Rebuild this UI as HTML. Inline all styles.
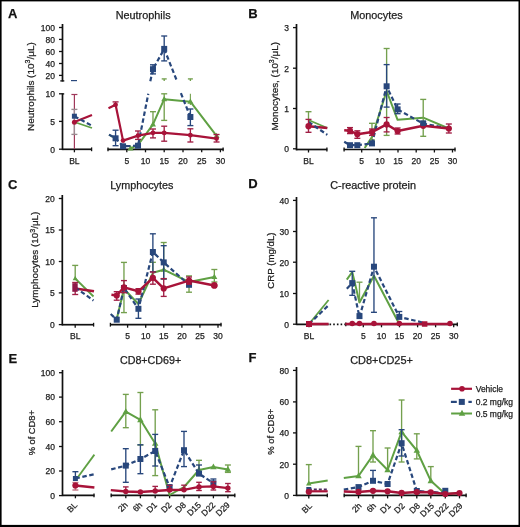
<!DOCTYPE html>
<html><head><meta charset="utf-8"><style>
html,body{margin:0;padding:0;background:#fff;}
body{width:520px;height:527px;overflow:hidden;position:relative;}
svg{position:absolute;left:0;top:0;display:block;font-family:"Liberation Sans",sans-serif;will-change:transform;}
text{stroke:#222;stroke-width:0.25px;}
</style></head><body>
<svg width="520" height="527" viewBox="0 0 520 527">
<rect x="0" y="0" width="520" height="527" fill="#fff"/>
<text x="7.9" y="18.1" font-size="13" text-anchor="start" font-weight="bold" fill="#111">A</text>
<text x="115.65" y="18.8" font-size="10.7" fill="#222" textLength="54.95" lengthAdjust="spacingAndGlyphs">Neutrophils</text>
<text x="34" y="86.6" font-size="9.9" text-anchor="middle" fill="#222" textLength="88.7" lengthAdjust="spacingAndGlyphs" transform="rotate(-90 34 86.6)">Neutrophils (10<tspan font-size="7" dy="-3.6">3</tspan><tspan dy="3.6">/μL)</tspan></text>
<line x1="62.5" y1="24" x2="62.5" y2="81.5" stroke="#111" stroke-width="1.7" stroke-linecap="butt"/>
<line x1="59" y1="27.5" x2="62.5" y2="27.5" stroke="#111" stroke-width="1.3" stroke-linecap="butt"/>
<text x="55" y="30.8" font-size="8.5" text-anchor="end" font-weight="normal" fill="#222">100</text>
<line x1="59" y1="39.4" x2="62.5" y2="39.4" stroke="#111" stroke-width="1.3" stroke-linecap="butt"/>
<text x="55" y="42.7" font-size="8.5" text-anchor="end" font-weight="normal" fill="#222">80</text>
<line x1="59" y1="51.5" x2="62.5" y2="51.5" stroke="#111" stroke-width="1.3" stroke-linecap="butt"/>
<text x="55" y="54.8" font-size="8.5" text-anchor="end" font-weight="normal" fill="#222">60</text>
<line x1="59" y1="63.5" x2="62.5" y2="63.5" stroke="#111" stroke-width="1.3" stroke-linecap="butt"/>
<text x="55" y="66.8" font-size="8.5" text-anchor="end" font-weight="normal" fill="#222">40</text>
<line x1="59" y1="75.4" x2="62.5" y2="75.4" stroke="#111" stroke-width="1.3" stroke-linecap="butt"/>
<text x="55" y="78.7" font-size="8.5" text-anchor="end" font-weight="normal" fill="#222">20</text>
<line x1="62.5" y1="93.2" x2="62.5" y2="150.1" stroke="#111" stroke-width="1.7" stroke-linecap="butt"/>
<line x1="59" y1="93.8" x2="62.5" y2="93.8" stroke="#111" stroke-width="1.3" stroke-linecap="butt"/>
<text x="55" y="97.1" font-size="8.5" text-anchor="end" font-weight="normal" fill="#222">10</text>
<line x1="59" y1="121.4" x2="62.5" y2="121.4" stroke="#111" stroke-width="1.3" stroke-linecap="butt"/>
<text x="55" y="124.7" font-size="8.5" text-anchor="end" font-weight="normal" fill="#222">5</text>
<line x1="59" y1="149.2" x2="62.5" y2="149.2" stroke="#111" stroke-width="1.3" stroke-linecap="butt"/>
<text x="55" y="152.5" font-size="8.5" text-anchor="end" font-weight="normal" fill="#222">0</text>
<line x1="60.3" y1="80.9" x2="64.3" y2="80.9" stroke="#111" stroke-width="1.3" stroke-linecap="butt"/>
<line x1="62.5" y1="93.9" x2="64.2" y2="93.9" stroke="#111" stroke-width="1.3" stroke-linecap="butt"/>
<line x1="62.5" y1="149.3" x2="92" y2="149.3" stroke="#111" stroke-width="1.7" stroke-linecap="butt"/>
<line x1="74.4" y1="149.3" x2="74.4" y2="152.3" stroke="#111" stroke-width="1.3" stroke-linecap="butt"/>
<line x1="91.6" y1="147.4" x2="91.6" y2="151.2" stroke="#111" stroke-width="1.3" stroke-linecap="butt"/>
<line x1="107.6" y1="149.3" x2="223.5" y2="149.3" stroke="#111" stroke-width="1.7" stroke-linecap="butt"/>
<line x1="126.8" y1="149.3" x2="126.8" y2="152.3" stroke="#111" stroke-width="1.3" stroke-linecap="butt"/>
<line x1="145.5" y1="149.3" x2="145.5" y2="152.3" stroke="#111" stroke-width="1.3" stroke-linecap="butt"/>
<line x1="164.2" y1="149.3" x2="164.2" y2="152.3" stroke="#111" stroke-width="1.3" stroke-linecap="butt"/>
<line x1="183" y1="149.3" x2="183" y2="152.3" stroke="#111" stroke-width="1.3" stroke-linecap="butt"/>
<line x1="201.7" y1="149.3" x2="201.7" y2="152.3" stroke="#111" stroke-width="1.3" stroke-linecap="butt"/>
<line x1="220.4" y1="149.3" x2="220.4" y2="152.3" stroke="#111" stroke-width="1.3" stroke-linecap="butt"/>
<line x1="108" y1="147.4" x2="108" y2="151.2" stroke="#111" stroke-width="1.3" stroke-linecap="butt"/>
<line x1="223.1" y1="147.4" x2="223.1" y2="151.2" stroke="#111" stroke-width="1.3" stroke-linecap="butt"/>
<text x="74.4" y="164" font-size="8.5" text-anchor="middle" font-weight="normal" fill="#222">BL</text>
<text x="126.8" y="164" font-size="8.5" text-anchor="middle" font-weight="normal" fill="#222">5</text>
<text x="145.5" y="164" font-size="8.5" text-anchor="middle" font-weight="normal" fill="#222">10</text>
<text x="164.2" y="164" font-size="8.5" text-anchor="middle" font-weight="normal" fill="#222">15</text>
<text x="183" y="164" font-size="8.5" text-anchor="middle" font-weight="normal" fill="#222">20</text>
<text x="201.7" y="164" font-size="8.5" text-anchor="middle" font-weight="normal" fill="#222">25</text>
<text x="220.4" y="164" font-size="8.5" text-anchor="middle" font-weight="normal" fill="#222">30</text>
<line x1="74.4" y1="94.5" x2="74.4" y2="149" stroke="#a0385a" stroke-width="1.2" stroke-linecap="butt"/>
<line x1="71.4" y1="94.5" x2="77.4" y2="94.5" stroke="#a0385a" stroke-width="1.2" stroke-linecap="butt"/>
<line x1="74.4" y1="109.4" x2="74.4" y2="134.4" stroke="#9a8a90" stroke-width="1.35" stroke-linecap="butt"/>
<line x1="71.4" y1="109.4" x2="77.4" y2="109.4" stroke="#9a8a90" stroke-width="1.35" stroke-linecap="butt"/>
<line x1="71.4" y1="134.4" x2="77.4" y2="134.4" stroke="#9a8a90" stroke-width="1.35" stroke-linecap="butt"/>
<polyline points="74.4,122 92,115" fill="none" stroke="#a81339" stroke-width="2.2" stroke-linejoin="round"/>
<polyline points="74.4,116.2 92,125.8" fill="none" stroke="#28477c" stroke-width="2.2" stroke-linejoin="round" stroke-dasharray="4.5,2.6"/>
<polyline points="74.4,122 92,128" fill="none" stroke="#5fa043" stroke-width="1.8" stroke-linejoin="round"/>
<line x1="71" y1="80.6" x2="77" y2="80.6" stroke="#28477c" stroke-width="1.2" stroke-linecap="butt"/>
<rect x="71.9" y="113.7" width="5" height="5" fill="#28477c"/>
<circle cx="74.4" cy="122.3" r="2.5" fill="#a81339"/>
<polyline points="109,134.8 115.58,138.5" fill="none" stroke="#5fa043" stroke-width="1.8" stroke-linejoin="round"/>
<polyline points="130.54,148.3 138.02,145 152.98,124.4 164.2,99.2 190.38,101.7 216.56,135.9" fill="none" stroke="#5fa043" stroke-width="2" stroke-linejoin="round"/>
<line x1="152.98" y1="111.7" x2="152.98" y2="124.4" stroke="#74a04e" stroke-width="1.35" stroke-linecap="butt"/>
<line x1="149.98" y1="111.7" x2="155.98" y2="111.7" stroke="#74a04e" stroke-width="1.35" stroke-linecap="butt"/>
<line x1="164.2" y1="78.9" x2="164.2" y2="81" stroke="#74a04e" stroke-width="1.35" stroke-linecap="butt"/>
<line x1="161.7" y1="78.9" x2="166.7" y2="78.9" stroke="#74a04e" stroke-width="1.35" stroke-linecap="butt"/>
<line x1="164.2" y1="93.8" x2="164.2" y2="120.4" stroke="#74a04e" stroke-width="1.35" stroke-linecap="butt"/>
<line x1="161.2" y1="93.8" x2="167.2" y2="93.8" stroke="#74a04e" stroke-width="1.35" stroke-linecap="butt"/>
<line x1="161.2" y1="120.4" x2="167.2" y2="120.4" stroke="#74a04e" stroke-width="1.35" stroke-linecap="butt"/>
<line x1="190.38" y1="78.9" x2="190.38" y2="81" stroke="#74a04e" stroke-width="1.35" stroke-linecap="butt"/>
<line x1="187.88" y1="78.9" x2="192.88" y2="78.9" stroke="#74a04e" stroke-width="1.35" stroke-linecap="butt"/>
<line x1="190.38" y1="93.8" x2="190.38" y2="105" stroke="#74a04e" stroke-width="1.1" stroke-linecap="butt"/>
<polygon points="130.54,145.06 127.54,150.46 133.54,150.46" fill="#5fa043"/>
<polygon points="152.98,121.16 149.98,126.56 155.98,126.56" fill="#5fa043"/>
<polygon points="164.2,95.96 161.2,101.36 167.2,101.36" fill="#5fa043"/>
<polygon points="190.38,98.46 187.38,103.86 193.38,103.86" fill="#5fa043"/>
<polygon points="216.56,132.66 213.56,138.06 219.56,138.06" fill="#5fa043"/>
<polyline points="109,134.6 115.58,138.3 123.06,146.3 138.02,145.7 148.3,93.8" fill="none" stroke="#28477c" stroke-width="2.2" stroke-linejoin="round" stroke-dasharray="4.5,2.6"/>
<polyline points="150.3,81.2 152.98,69.2 164.2,48.9 176.9,80.8" fill="none" stroke="#28477c" stroke-width="2.2" stroke-linejoin="round" stroke-dasharray="4.5,2.6"/>
<polyline points="180.9,93.2 190.38,117" fill="none" stroke="#28477c" stroke-width="2.2" stroke-linejoin="round" stroke-dasharray="4.5,2.6"/>
<line x1="115.58" y1="130.2" x2="115.58" y2="145.7" stroke="#28477c" stroke-width="1.35" stroke-linecap="butt"/>
<line x1="112.58" y1="130.2" x2="118.58" y2="130.2" stroke="#28477c" stroke-width="1.35" stroke-linecap="butt"/>
<line x1="112.58" y1="145.7" x2="118.58" y2="145.7" stroke="#28477c" stroke-width="1.35" stroke-linecap="butt"/>
<line x1="152.98" y1="64.8" x2="152.98" y2="73.9" stroke="#28477c" stroke-width="1.35" stroke-linecap="butt"/>
<line x1="149.98" y1="64.8" x2="155.98" y2="64.8" stroke="#28477c" stroke-width="1.35" stroke-linecap="butt"/>
<line x1="149.98" y1="73.9" x2="155.98" y2="73.9" stroke="#28477c" stroke-width="1.35" stroke-linecap="butt"/>
<line x1="164.2" y1="36" x2="164.2" y2="60.9" stroke="#28477c" stroke-width="1.35" stroke-linecap="butt"/>
<line x1="161.2" y1="36" x2="167.2" y2="36" stroke="#28477c" stroke-width="1.35" stroke-linecap="butt"/>
<line x1="161.2" y1="60.9" x2="167.2" y2="60.9" stroke="#28477c" stroke-width="1.35" stroke-linecap="butt"/>
<line x1="190.38" y1="109" x2="190.38" y2="125.6" stroke="#28477c" stroke-width="1.35" stroke-linecap="butt"/>
<line x1="187.38" y1="109" x2="193.38" y2="109" stroke="#28477c" stroke-width="1.35" stroke-linecap="butt"/>
<line x1="187.38" y1="125.6" x2="193.38" y2="125.6" stroke="#28477c" stroke-width="1.35" stroke-linecap="butt"/>
<rect x="112.58" y="135.3" width="6" height="6" fill="#28477c"/>
<rect x="120.06" y="143.3" width="6" height="6" fill="#28477c"/>
<rect x="135.02" y="142.7" width="6" height="6" fill="#28477c"/>
<rect x="149.98" y="66.2" width="6" height="6" fill="#28477c"/>
<rect x="161.2" y="45.9" width="6" height="6" fill="#28477c"/>
<rect x="187.38" y="114" width="6" height="6" fill="#28477c"/>
<polyline points="108.5,108.3 115.58,104.8 123.06,140.6 138.02,135.6 152.98,132.8 164.2,132.9 190.38,135.2 216.56,138.6" fill="none" stroke="#a81339" stroke-width="2.2" stroke-linejoin="round"/>
<line x1="115.58" y1="101.9" x2="115.58" y2="104.8" stroke="#a01f45" stroke-width="1.35" stroke-linecap="butt"/>
<line x1="112.58" y1="101.9" x2="118.58" y2="101.9" stroke="#a01f45" stroke-width="1.35" stroke-linecap="butt"/>
<line x1="138.02" y1="131" x2="138.02" y2="139.4" stroke="#a01f45" stroke-width="1.35" stroke-linecap="butt"/>
<line x1="135.02" y1="131" x2="141.02" y2="131" stroke="#a01f45" stroke-width="1.35" stroke-linecap="butt"/>
<line x1="135.02" y1="139.4" x2="141.02" y2="139.4" stroke="#a01f45" stroke-width="1.35" stroke-linecap="butt"/>
<line x1="152.98" y1="129" x2="152.98" y2="137.9" stroke="#a01f45" stroke-width="1.35" stroke-linecap="butt"/>
<line x1="149.98" y1="129" x2="155.98" y2="129" stroke="#a01f45" stroke-width="1.35" stroke-linecap="butt"/>
<line x1="149.98" y1="137.9" x2="155.98" y2="137.9" stroke="#a01f45" stroke-width="1.35" stroke-linecap="butt"/>
<line x1="164.2" y1="126.2" x2="164.2" y2="141.2" stroke="#a01f45" stroke-width="1.35" stroke-linecap="butt"/>
<line x1="161.2" y1="126.2" x2="167.2" y2="126.2" stroke="#a01f45" stroke-width="1.35" stroke-linecap="butt"/>
<line x1="161.2" y1="141.2" x2="167.2" y2="141.2" stroke="#a01f45" stroke-width="1.35" stroke-linecap="butt"/>
<line x1="190.38" y1="128.8" x2="190.38" y2="142" stroke="#a01f45" stroke-width="1.35" stroke-linecap="butt"/>
<line x1="187.38" y1="128.8" x2="193.38" y2="128.8" stroke="#a01f45" stroke-width="1.35" stroke-linecap="butt"/>
<line x1="187.38" y1="142" x2="193.38" y2="142" stroke="#a01f45" stroke-width="1.35" stroke-linecap="butt"/>
<line x1="216.56" y1="134.5" x2="216.56" y2="142" stroke="#a01f45" stroke-width="1.35" stroke-linecap="butt"/>
<line x1="213.56" y1="134.5" x2="219.56" y2="134.5" stroke="#a01f45" stroke-width="1.35" stroke-linecap="butt"/>
<line x1="213.56" y1="142" x2="219.56" y2="142" stroke="#a01f45" stroke-width="1.35" stroke-linecap="butt"/>
<circle cx="115.58" cy="104.8" r="2.4" fill="#a81339"/>
<circle cx="123.06" cy="140.6" r="2.4" fill="#a81339"/>
<circle cx="138.02" cy="135.6" r="2.4" fill="#a81339"/>
<circle cx="152.98" cy="132.8" r="2.4" fill="#a81339"/>
<circle cx="164.2" cy="132.9" r="2.4" fill="#a81339"/>
<circle cx="190.38" cy="135.2" r="2.4" fill="#a81339"/>
<circle cx="216.56" cy="138.6" r="2.4" fill="#a81339"/>
<text x="248.2" y="17.8" font-size="13" text-anchor="start" font-weight="bold" fill="#111">B</text>
<text x="350.2" y="18.9" font-size="10.7" fill="#222" textLength="52.4" lengthAdjust="spacingAndGlyphs">Monocytes</text>
<text x="278" y="86.3" font-size="9.9" text-anchor="middle" fill="#222" textLength="88.6" lengthAdjust="spacingAndGlyphs" transform="rotate(-90 278 86.3)">Monocytes, (10<tspan font-size="7" dy="-3.6">3</tspan><tspan dy="3.6">/μL)</tspan></text>
<line x1="296.5" y1="24" x2="296.5" y2="150.4" stroke="#111" stroke-width="1.7" stroke-linecap="butt"/>
<line x1="293" y1="27.6" x2="296.5" y2="27.6" stroke="#111" stroke-width="1.3" stroke-linecap="butt"/>
<text x="289" y="30.9" font-size="8.5" text-anchor="end" font-weight="normal" fill="#222">3</text>
<line x1="293" y1="68.2" x2="296.5" y2="68.2" stroke="#111" stroke-width="1.3" stroke-linecap="butt"/>
<text x="289" y="71.5" font-size="8.5" text-anchor="end" font-weight="normal" fill="#222">2</text>
<line x1="293" y1="108.5" x2="296.5" y2="108.5" stroke="#111" stroke-width="1.3" stroke-linecap="butt"/>
<text x="289" y="111.8" font-size="8.5" text-anchor="end" font-weight="normal" fill="#222">1</text>
<line x1="293" y1="148.8" x2="296.5" y2="148.8" stroke="#111" stroke-width="1.3" stroke-linecap="butt"/>
<text x="289" y="152.1" font-size="8.5" text-anchor="end" font-weight="normal" fill="#222">0</text>
<line x1="296.5" y1="149.5" x2="327.3" y2="149.5" stroke="#111" stroke-width="1.7" stroke-linecap="butt"/>
<line x1="308.5" y1="149.5" x2="308.5" y2="152.5" stroke="#111" stroke-width="1.3" stroke-linecap="butt"/>
<line x1="326.9" y1="147.6" x2="326.9" y2="151.4" stroke="#111" stroke-width="1.3" stroke-linecap="butt"/>
<line x1="343.7" y1="149.5" x2="455.4" y2="149.5" stroke="#111" stroke-width="1.7" stroke-linecap="butt"/>
<line x1="361.7" y1="149.5" x2="361.7" y2="152.5" stroke="#111" stroke-width="1.3" stroke-linecap="butt"/>
<line x1="379.9" y1="149.5" x2="379.9" y2="152.5" stroke="#111" stroke-width="1.3" stroke-linecap="butt"/>
<line x1="398" y1="149.5" x2="398" y2="152.5" stroke="#111" stroke-width="1.3" stroke-linecap="butt"/>
<line x1="416.2" y1="149.5" x2="416.2" y2="152.5" stroke="#111" stroke-width="1.3" stroke-linecap="butt"/>
<line x1="434.4" y1="149.5" x2="434.4" y2="152.5" stroke="#111" stroke-width="1.3" stroke-linecap="butt"/>
<line x1="452.5" y1="149.5" x2="452.5" y2="152.5" stroke="#111" stroke-width="1.3" stroke-linecap="butt"/>
<line x1="344.1" y1="147.6" x2="344.1" y2="151.4" stroke="#111" stroke-width="1.3" stroke-linecap="butt"/>
<line x1="455" y1="147.6" x2="455" y2="151.4" stroke="#111" stroke-width="1.3" stroke-linecap="butt"/>
<text x="308.5" y="163.6" font-size="8.5" text-anchor="middle" font-weight="normal" fill="#222">BL</text>
<text x="361.7" y="163.6" font-size="8.5" text-anchor="middle" font-weight="normal" fill="#222">5</text>
<text x="379.9" y="163.6" font-size="8.5" text-anchor="middle" font-weight="normal" fill="#222">10</text>
<text x="398" y="163.6" font-size="8.5" text-anchor="middle" font-weight="normal" fill="#222">15</text>
<text x="416.2" y="163.6" font-size="8.5" text-anchor="middle" font-weight="normal" fill="#222">20</text>
<text x="434.4" y="163.6" font-size="8.5" text-anchor="middle" font-weight="normal" fill="#222">25</text>
<text x="452.5" y="163.6" font-size="8.5" text-anchor="middle" font-weight="normal" fill="#222">30</text>
<polyline points="308.5,120 327.3,128" fill="none" stroke="#5fa043" stroke-width="1.8" stroke-linejoin="round"/>
<polyline points="308.5,126.2 327.3,128" fill="none" stroke="#a81339" stroke-width="2.5" stroke-linejoin="round"/>
<polyline points="308.5,122 327.3,134.8" fill="none" stroke="#28477c" stroke-width="2.2" stroke-linejoin="round" stroke-dasharray="4.5,2.6"/>
<line x1="308.5" y1="111.7" x2="308.5" y2="120" stroke="#74a04e" stroke-width="1.35" stroke-linecap="butt"/>
<line x1="305.5" y1="111.7" x2="311.5" y2="111.7" stroke="#74a04e" stroke-width="1.35" stroke-linecap="butt"/>
<line x1="308.5" y1="119.4" x2="308.5" y2="132.3" stroke="#a01f45" stroke-width="1.35" stroke-linecap="butt"/>
<line x1="305.5" y1="119.4" x2="311.5" y2="119.4" stroke="#a01f45" stroke-width="1.35" stroke-linecap="butt"/>
<line x1="305.5" y1="132.3" x2="311.5" y2="132.3" stroke="#a01f45" stroke-width="1.35" stroke-linecap="butt"/>
<circle cx="308.5" cy="126.2" r="3.1" fill="#a81339"/>
<polyline points="364.66,148 371.98,137 386.62,91 397.6,119.8 423.22,117.7 448.84,128.5" fill="none" stroke="#5fa043" stroke-width="2" stroke-linejoin="round"/>
<line x1="371.98" y1="123.3" x2="371.98" y2="140" stroke="#74a04e" stroke-width="1.35" stroke-linecap="butt"/>
<line x1="368.98" y1="123.3" x2="374.98" y2="123.3" stroke="#74a04e" stroke-width="1.35" stroke-linecap="butt"/>
<line x1="368.98" y1="140" x2="374.98" y2="140" stroke="#74a04e" stroke-width="1.35" stroke-linecap="butt"/>
<line x1="386.62" y1="48.5" x2="386.62" y2="135.4" stroke="#74a04e" stroke-width="1.35" stroke-linecap="butt"/>
<line x1="383.62" y1="48.5" x2="389.62" y2="48.5" stroke="#74a04e" stroke-width="1.35" stroke-linecap="butt"/>
<line x1="383.62" y1="135.4" x2="389.62" y2="135.4" stroke="#74a04e" stroke-width="1.35" stroke-linecap="butt"/>
<line x1="423.22" y1="99.4" x2="423.22" y2="136.3" stroke="#74a04e" stroke-width="1.35" stroke-linecap="butt"/>
<line x1="420.22" y1="99.4" x2="426.22" y2="99.4" stroke="#74a04e" stroke-width="1.35" stroke-linecap="butt"/>
<line x1="420.22" y1="136.3" x2="426.22" y2="136.3" stroke="#74a04e" stroke-width="1.35" stroke-linecap="butt"/>
<polyline points="344.2,141.7 350.02,145.2 357.34,145.2 371.98,143.4 386.62,86.3 397.6,109.4 423.22,123.7 448.84,128.5" fill="none" stroke="#28477c" stroke-width="2.2" stroke-linejoin="round" stroke-dasharray="4.5,2.6"/>
<line x1="386.62" y1="64.6" x2="386.62" y2="107.1" stroke="#28477c" stroke-width="1.35" stroke-linecap="butt"/>
<line x1="383.62" y1="64.6" x2="389.62" y2="64.6" stroke="#28477c" stroke-width="1.35" stroke-linecap="butt"/>
<line x1="383.62" y1="107.1" x2="389.62" y2="107.1" stroke="#28477c" stroke-width="1.35" stroke-linecap="butt"/>
<line x1="397.6" y1="104" x2="397.6" y2="113.7" stroke="#28477c" stroke-width="1.35" stroke-linecap="butt"/>
<line x1="394.6" y1="104" x2="400.6" y2="104" stroke="#28477c" stroke-width="1.35" stroke-linecap="butt"/>
<line x1="394.6" y1="113.7" x2="400.6" y2="113.7" stroke="#28477c" stroke-width="1.35" stroke-linecap="butt"/>
<rect x="347.02" y="142.2" width="6" height="6" fill="#28477c"/>
<rect x="354.34" y="142.2" width="6" height="6" fill="#28477c"/>
<rect x="368.98" y="140.4" width="6" height="6" fill="#28477c"/>
<rect x="383.62" y="83.3" width="6" height="6" fill="#28477c"/>
<rect x="394.6" y="106.4" width="6" height="6" fill="#28477c"/>
<rect x="420.22" y="120.7" width="6" height="6" fill="#28477c"/>
<polyline points="344.2,130.2 350.02,130.8 357.34,134.2 371.98,132.1 386.62,124.4 397.6,131 423.22,125.8 448.84,128.5" fill="none" stroke="#a81339" stroke-width="2.5" stroke-linejoin="round"/>
<line x1="350.02" y1="127.6" x2="350.02" y2="133.6" stroke="#a01f45" stroke-width="1.35" stroke-linecap="butt"/>
<line x1="347.02" y1="127.6" x2="353.02" y2="127.6" stroke="#a01f45" stroke-width="1.35" stroke-linecap="butt"/>
<line x1="347.02" y1="133.6" x2="353.02" y2="133.6" stroke="#a01f45" stroke-width="1.35" stroke-linecap="butt"/>
<line x1="357.34" y1="130.8" x2="357.34" y2="138.3" stroke="#a01f45" stroke-width="1.35" stroke-linecap="butt"/>
<line x1="354.34" y1="130.8" x2="360.34" y2="130.8" stroke="#a01f45" stroke-width="1.35" stroke-linecap="butt"/>
<line x1="354.34" y1="138.3" x2="360.34" y2="138.3" stroke="#a01f45" stroke-width="1.35" stroke-linecap="butt"/>
<line x1="371.98" y1="129" x2="371.98" y2="135.4" stroke="#a01f45" stroke-width="1.35" stroke-linecap="butt"/>
<line x1="368.98" y1="129" x2="374.98" y2="129" stroke="#a01f45" stroke-width="1.35" stroke-linecap="butt"/>
<line x1="368.98" y1="135.4" x2="374.98" y2="135.4" stroke="#a01f45" stroke-width="1.35" stroke-linecap="butt"/>
<line x1="386.62" y1="117.5" x2="386.62" y2="131.9" stroke="#a01f45" stroke-width="1.35" stroke-linecap="butt"/>
<line x1="383.62" y1="117.5" x2="389.62" y2="117.5" stroke="#a01f45" stroke-width="1.35" stroke-linecap="butt"/>
<line x1="383.62" y1="131.9" x2="389.62" y2="131.9" stroke="#a01f45" stroke-width="1.35" stroke-linecap="butt"/>
<line x1="397.6" y1="128" x2="397.6" y2="134" stroke="#a01f45" stroke-width="1.35" stroke-linecap="butt"/>
<line x1="394.6" y1="128" x2="400.6" y2="128" stroke="#a01f45" stroke-width="1.35" stroke-linecap="butt"/>
<line x1="394.6" y1="134" x2="400.6" y2="134" stroke="#a01f45" stroke-width="1.35" stroke-linecap="butt"/>
<line x1="448.84" y1="124" x2="448.84" y2="133" stroke="#a01f45" stroke-width="1.35" stroke-linecap="butt"/>
<line x1="445.84" y1="124" x2="451.84" y2="124" stroke="#a01f45" stroke-width="1.35" stroke-linecap="butt"/>
<line x1="445.84" y1="133" x2="451.84" y2="133" stroke="#a01f45" stroke-width="1.35" stroke-linecap="butt"/>
<circle cx="350.02" cy="130.8" r="3.1" fill="#a81339"/>
<circle cx="357.34" cy="134.2" r="3.1" fill="#a81339"/>
<circle cx="371.98" cy="132.1" r="3.1" fill="#a81339"/>
<circle cx="386.62" cy="124.4" r="3.1" fill="#a81339"/>
<circle cx="397.6" cy="131" r="3.1" fill="#a81339"/>
<circle cx="423.22" cy="125.8" r="3.1" fill="#a81339"/>
<circle cx="448.84" cy="128.5" r="3.1" fill="#a81339"/>
<rect x="420.47" y="120.45" width="5.5" height="5.5" fill="#28477c"/>
<text x="7.9" y="188.7" font-size="13" text-anchor="start" font-weight="bold" fill="#111">C</text>
<text x="110.2" y="189.3" font-size="10.7" fill="#222" textLength="63.2" lengthAdjust="spacingAndGlyphs">Lymphocytes</text>
<text x="38.4" y="259.7" font-size="9.9" text-anchor="middle" fill="#222" textLength="96.2" lengthAdjust="spacingAndGlyphs" transform="rotate(-90 38.4 259.7)">Lymphocytes (10<tspan font-size="7" dy="-3.6">3</tspan><tspan dy="3.6">/μL)</tspan></text>
<line x1="62.3" y1="195" x2="62.3" y2="325.5" stroke="#111" stroke-width="1.7" stroke-linecap="butt"/>
<line x1="58.8" y1="198.5" x2="62.3" y2="198.5" stroke="#111" stroke-width="1.3" stroke-linecap="butt"/>
<text x="54.8" y="201.8" font-size="8.5" text-anchor="end" font-weight="normal" fill="#222">20</text>
<line x1="58.8" y1="230" x2="62.3" y2="230" stroke="#111" stroke-width="1.3" stroke-linecap="butt"/>
<text x="54.8" y="233.3" font-size="8.5" text-anchor="end" font-weight="normal" fill="#222">15</text>
<line x1="58.8" y1="261.5" x2="62.3" y2="261.5" stroke="#111" stroke-width="1.3" stroke-linecap="butt"/>
<text x="54.8" y="264.8" font-size="8.5" text-anchor="end" font-weight="normal" fill="#222">10</text>
<line x1="58.8" y1="292.9" x2="62.3" y2="292.9" stroke="#111" stroke-width="1.3" stroke-linecap="butt"/>
<text x="54.8" y="296.2" font-size="8.5" text-anchor="end" font-weight="normal" fill="#222">5</text>
<line x1="58.8" y1="324.6" x2="62.3" y2="324.6" stroke="#111" stroke-width="1.3" stroke-linecap="butt"/>
<text x="54.8" y="327.9" font-size="8.5" text-anchor="end" font-weight="normal" fill="#222">0</text>
<line x1="62.3" y1="324.7" x2="94" y2="324.7" stroke="#111" stroke-width="1.7" stroke-linecap="butt"/>
<line x1="75.2" y1="324.7" x2="75.2" y2="327.7" stroke="#111" stroke-width="1.3" stroke-linecap="butt"/>
<line x1="93.6" y1="322.8" x2="93.6" y2="326.6" stroke="#111" stroke-width="1.3" stroke-linecap="butt"/>
<line x1="110" y1="324.7" x2="221.4" y2="324.7" stroke="#111" stroke-width="1.7" stroke-linecap="butt"/>
<line x1="127.6" y1="324.7" x2="127.6" y2="327.7" stroke="#111" stroke-width="1.3" stroke-linecap="butt"/>
<line x1="145.7" y1="324.7" x2="145.7" y2="327.7" stroke="#111" stroke-width="1.3" stroke-linecap="butt"/>
<line x1="163.8" y1="324.7" x2="163.8" y2="327.7" stroke="#111" stroke-width="1.3" stroke-linecap="butt"/>
<line x1="181.9" y1="324.7" x2="181.9" y2="327.7" stroke="#111" stroke-width="1.3" stroke-linecap="butt"/>
<line x1="199.9" y1="324.7" x2="199.9" y2="327.7" stroke="#111" stroke-width="1.3" stroke-linecap="butt"/>
<line x1="218" y1="324.7" x2="218" y2="327.7" stroke="#111" stroke-width="1.3" stroke-linecap="butt"/>
<line x1="110.4" y1="322.8" x2="110.4" y2="326.6" stroke="#111" stroke-width="1.3" stroke-linecap="butt"/>
<line x1="221" y1="322.8" x2="221" y2="326.6" stroke="#111" stroke-width="1.3" stroke-linecap="butt"/>
<text x="75.2" y="338.9" font-size="8.5" text-anchor="middle" font-weight="normal" fill="#222">BL</text>
<text x="127.6" y="338.9" font-size="8.5" text-anchor="middle" font-weight="normal" fill="#222">5</text>
<text x="145.7" y="338.9" font-size="8.5" text-anchor="middle" font-weight="normal" fill="#222">10</text>
<text x="163.8" y="338.9" font-size="8.5" text-anchor="middle" font-weight="normal" fill="#222">15</text>
<text x="181.9" y="338.9" font-size="8.5" text-anchor="middle" font-weight="normal" fill="#222">20</text>
<text x="199.9" y="338.9" font-size="8.5" text-anchor="middle" font-weight="normal" fill="#222">25</text>
<text x="218" y="338.9" font-size="8.5" text-anchor="middle" font-weight="normal" fill="#222">30</text>
<polyline points="75.2,278.5 93.5,296.5" fill="none" stroke="#5fa043" stroke-width="1.8" stroke-linejoin="round"/>
<polyline points="75.2,288.5 94,291.3" fill="none" stroke="#a81339" stroke-width="2.5" stroke-linejoin="round"/>
<polyline points="75.2,287.5 93.5,300.5" fill="none" stroke="#28477c" stroke-width="2.2" stroke-linejoin="round" stroke-dasharray="4.5,2.6"/>
<line x1="75.2" y1="265.4" x2="75.2" y2="278.5" stroke="#74a04e" stroke-width="1.35" stroke-linecap="butt"/>
<line x1="72.2" y1="265.4" x2="78.2" y2="265.4" stroke="#74a04e" stroke-width="1.35" stroke-linecap="butt"/>
<polygon points="75.2,275.8 72.7,280.3 77.7,280.3" fill="#5fa043"/>
<line x1="75.2" y1="282.5" x2="75.2" y2="294.5" stroke="#a01f45" stroke-width="1.35" stroke-linecap="butt"/>
<line x1="72.2" y1="282.5" x2="78.2" y2="282.5" stroke="#a01f45" stroke-width="1.35" stroke-linecap="butt"/>
<line x1="72.2" y1="294.5" x2="78.2" y2="294.5" stroke="#a01f45" stroke-width="1.35" stroke-linecap="butt"/>
<rect x="72.3" y="283.2" width="5.4" height="8.6" fill="#8f1848"/>
<polyline points="116.73,319 123.96,289 138.42,304 152.88,272.8 163.72,269.7 189.03,282 214.34,276.9" fill="none" stroke="#5fa043" stroke-width="2" stroke-linejoin="round"/>
<line x1="123.96" y1="262.4" x2="123.96" y2="312.6" stroke="#74a04e" stroke-width="1.35" stroke-linecap="butt"/>
<line x1="120.96" y1="262.4" x2="126.96" y2="262.4" stroke="#74a04e" stroke-width="1.35" stroke-linecap="butt"/>
<line x1="120.96" y1="312.6" x2="126.96" y2="312.6" stroke="#74a04e" stroke-width="1.35" stroke-linecap="butt"/>
<line x1="152.88" y1="262.3" x2="152.88" y2="272.8" stroke="#74a04e" stroke-width="1.35" stroke-linecap="butt"/>
<line x1="149.88" y1="262.3" x2="155.88" y2="262.3" stroke="#74a04e" stroke-width="1.35" stroke-linecap="butt"/>
<line x1="163.72" y1="242.5" x2="163.72" y2="279" stroke="#74a04e" stroke-width="1.35" stroke-linecap="butt"/>
<line x1="160.72" y1="242.5" x2="166.72" y2="242.5" stroke="#74a04e" stroke-width="1.35" stroke-linecap="butt"/>
<line x1="160.72" y1="279" x2="166.72" y2="279" stroke="#74a04e" stroke-width="1.35" stroke-linecap="butt"/>
<line x1="189.03" y1="275.9" x2="189.03" y2="292.2" stroke="#74a04e" stroke-width="1.35" stroke-linecap="butt"/>
<line x1="186.03" y1="275.9" x2="192.03" y2="275.9" stroke="#74a04e" stroke-width="1.35" stroke-linecap="butt"/>
<line x1="186.03" y1="292.2" x2="192.03" y2="292.2" stroke="#74a04e" stroke-width="1.35" stroke-linecap="butt"/>
<line x1="214.34" y1="269.5" x2="214.34" y2="282" stroke="#74a04e" stroke-width="1.35" stroke-linecap="butt"/>
<line x1="211.34" y1="269.5" x2="217.34" y2="269.5" stroke="#74a04e" stroke-width="1.35" stroke-linecap="butt"/>
<line x1="211.34" y1="282" x2="217.34" y2="282" stroke="#74a04e" stroke-width="1.35" stroke-linecap="butt"/>
<polygon points="214.34,273.66 211.34,279.06 217.34,279.06" fill="#5fa043"/>
<polygon points="163.72,266.46 160.72,271.86 166.72,271.86" fill="#5fa043"/>
<polyline points="110.7,314 116.73,319.7 123.96,288 138.42,308.8 152.88,252 163.72,262.4 189.03,284.8" fill="none" stroke="#28477c" stroke-width="2.2" stroke-linejoin="round" stroke-dasharray="4.5,2.6"/>
<line x1="138.42" y1="299" x2="138.42" y2="318.3" stroke="#28477c" stroke-width="1.35" stroke-linecap="butt"/>
<line x1="135.42" y1="299" x2="141.42" y2="299" stroke="#28477c" stroke-width="1.35" stroke-linecap="butt"/>
<line x1="135.42" y1="318.3" x2="141.42" y2="318.3" stroke="#28477c" stroke-width="1.35" stroke-linecap="butt"/>
<line x1="152.88" y1="233.8" x2="152.88" y2="271.8" stroke="#28477c" stroke-width="1.35" stroke-linecap="butt"/>
<line x1="149.88" y1="233.8" x2="155.88" y2="233.8" stroke="#28477c" stroke-width="1.35" stroke-linecap="butt"/>
<line x1="149.88" y1="271.8" x2="155.88" y2="271.8" stroke="#28477c" stroke-width="1.35" stroke-linecap="butt"/>
<line x1="163.72" y1="245.7" x2="163.72" y2="279" stroke="#28477c" stroke-width="1.35" stroke-linecap="butt"/>
<line x1="160.72" y1="245.7" x2="166.72" y2="245.7" stroke="#28477c" stroke-width="1.35" stroke-linecap="butt"/>
<line x1="160.72" y1="279" x2="166.72" y2="279" stroke="#28477c" stroke-width="1.35" stroke-linecap="butt"/>
<rect x="113.73" y="316.7" width="6" height="6" fill="#28477c"/>
<rect x="120.96" y="285" width="6" height="6" fill="#28477c"/>
<rect x="135.42" y="305.8" width="6" height="6" fill="#28477c"/>
<rect x="149.88" y="249" width="6" height="6" fill="#28477c"/>
<rect x="160.72" y="259.4" width="6" height="6" fill="#28477c"/>
<rect x="186.03" y="281.8" width="6" height="6" fill="#28477c"/>
<polyline points="111.4,294.8 116.73,295.5 123.96,287.4 138.42,291.3 152.88,277.8 163.72,288.4 189.03,280.6 214.34,285.4" fill="none" stroke="#a81339" stroke-width="2.5" stroke-linejoin="round"/>
<line x1="116.73" y1="291.7" x2="116.73" y2="300.2" stroke="#a01f45" stroke-width="1.35" stroke-linecap="butt"/>
<line x1="113.73" y1="291.7" x2="119.73" y2="291.7" stroke="#a01f45" stroke-width="1.35" stroke-linecap="butt"/>
<line x1="113.73" y1="300.2" x2="119.73" y2="300.2" stroke="#a01f45" stroke-width="1.35" stroke-linecap="butt"/>
<line x1="123.96" y1="280.6" x2="123.96" y2="292.7" stroke="#a01f45" stroke-width="1.35" stroke-linecap="butt"/>
<line x1="120.96" y1="280.6" x2="126.96" y2="280.6" stroke="#a01f45" stroke-width="1.35" stroke-linecap="butt"/>
<line x1="120.96" y1="292.7" x2="126.96" y2="292.7" stroke="#a01f45" stroke-width="1.35" stroke-linecap="butt"/>
<line x1="138.42" y1="288.7" x2="138.42" y2="294.1" stroke="#a01f45" stroke-width="1.35" stroke-linecap="butt"/>
<line x1="135.42" y1="288.7" x2="141.42" y2="288.7" stroke="#a01f45" stroke-width="1.35" stroke-linecap="butt"/>
<line x1="135.42" y1="294.1" x2="141.42" y2="294.1" stroke="#a01f45" stroke-width="1.35" stroke-linecap="butt"/>
<line x1="152.88" y1="272" x2="152.88" y2="284.2" stroke="#a01f45" stroke-width="1.35" stroke-linecap="butt"/>
<line x1="149.88" y1="272" x2="155.88" y2="272" stroke="#a01f45" stroke-width="1.35" stroke-linecap="butt"/>
<line x1="149.88" y1="284.2" x2="155.88" y2="284.2" stroke="#a01f45" stroke-width="1.35" stroke-linecap="butt"/>
<line x1="163.72" y1="278.6" x2="163.72" y2="296.4" stroke="#a01f45" stroke-width="1.35" stroke-linecap="butt"/>
<line x1="160.72" y1="278.6" x2="166.72" y2="278.6" stroke="#a01f45" stroke-width="1.35" stroke-linecap="butt"/>
<line x1="160.72" y1="296.4" x2="166.72" y2="296.4" stroke="#a01f45" stroke-width="1.35" stroke-linecap="butt"/>
<line x1="189.03" y1="277" x2="189.03" y2="284" stroke="#a01f45" stroke-width="1.35" stroke-linecap="butt"/>
<line x1="186.03" y1="277" x2="192.03" y2="277" stroke="#a01f45" stroke-width="1.35" stroke-linecap="butt"/>
<line x1="186.03" y1="284" x2="192.03" y2="284" stroke="#a01f45" stroke-width="1.35" stroke-linecap="butt"/>
<circle cx="116.73" cy="295.5" r="3.1" fill="#a81339"/>
<circle cx="123.96" cy="287.4" r="3.1" fill="#a81339"/>
<circle cx="138.42" cy="291.3" r="3.1" fill="#a81339"/>
<circle cx="152.88" cy="277.8" r="3.1" fill="#a81339"/>
<circle cx="163.72" cy="288.4" r="3.1" fill="#a81339"/>
<circle cx="189.03" cy="280.6" r="3.1" fill="#a81339"/>
<circle cx="214.34" cy="285.4" r="3.1" fill="#a81339"/>
<rect x="186.53" y="279.5" width="5" height="5" fill="#a81339"/>
<circle cx="214.34" cy="285.4" r="3.2" fill="#a81339"/>
<text x="248.3" y="187.8" font-size="13" text-anchor="start" font-weight="bold" fill="#111">D</text>
<text x="330.2" y="189.3" font-size="10.7" fill="#222" textLength="85.8" lengthAdjust="spacingAndGlyphs">C-reactive protein</text>
<text x="273.7" y="260.6" font-size="9.9" text-anchor="middle" fill="#222" textLength="56.2" lengthAdjust="spacingAndGlyphs" transform="rotate(-90 273.7 260.6)">CRP (mg/dL)</text>
<line x1="296.5" y1="197" x2="296.5" y2="325.1" stroke="#111" stroke-width="1.7" stroke-linecap="butt"/>
<line x1="293" y1="200.4" x2="296.5" y2="200.4" stroke="#111" stroke-width="1.3" stroke-linecap="butt"/>
<text x="289" y="203.7" font-size="8.5" text-anchor="end" font-weight="normal" fill="#222">40</text>
<line x1="293" y1="231.5" x2="296.5" y2="231.5" stroke="#111" stroke-width="1.3" stroke-linecap="butt"/>
<text x="289" y="234.8" font-size="8.5" text-anchor="end" font-weight="normal" fill="#222">30</text>
<line x1="293" y1="262.2" x2="296.5" y2="262.2" stroke="#111" stroke-width="1.3" stroke-linecap="butt"/>
<text x="289" y="265.5" font-size="8.5" text-anchor="end" font-weight="normal" fill="#222">20</text>
<line x1="293" y1="293.5" x2="296.5" y2="293.5" stroke="#111" stroke-width="1.3" stroke-linecap="butt"/>
<text x="289" y="296.8" font-size="8.5" text-anchor="end" font-weight="normal" fill="#222">10</text>
<line x1="293" y1="324.2" x2="296.5" y2="324.2" stroke="#111" stroke-width="1.3" stroke-linecap="butt"/>
<text x="289" y="327.5" font-size="8.5" text-anchor="end" font-weight="normal" fill="#222">0</text>
<line x1="296.5" y1="324.3" x2="328.6" y2="324.3" stroke="#111" stroke-width="1.7" stroke-linecap="butt"/>
<line x1="309" y1="324.3" x2="309" y2="327.3" stroke="#111" stroke-width="1.3" stroke-linecap="butt"/>
<line x1="329.5" y1="324.3" x2="345.4" y2="324.3" stroke="#111" stroke-width="1.7" stroke-linecap="butt" stroke-dasharray="1.6,2.1"/>
<line x1="345.4" y1="324.3" x2="457.7" y2="324.3" stroke="#111" stroke-width="1.7" stroke-linecap="butt"/>
<line x1="363.3" y1="324.3" x2="363.3" y2="327.3" stroke="#111" stroke-width="1.3" stroke-linecap="butt"/>
<line x1="381.5" y1="324.3" x2="381.5" y2="327.3" stroke="#111" stroke-width="1.3" stroke-linecap="butt"/>
<line x1="399.5" y1="324.3" x2="399.5" y2="327.3" stroke="#111" stroke-width="1.3" stroke-linecap="butt"/>
<line x1="417.6" y1="324.3" x2="417.6" y2="327.3" stroke="#111" stroke-width="1.3" stroke-linecap="butt"/>
<line x1="435.6" y1="324.3" x2="435.6" y2="327.3" stroke="#111" stroke-width="1.3" stroke-linecap="butt"/>
<line x1="453.7" y1="324.3" x2="453.7" y2="327.3" stroke="#111" stroke-width="1.3" stroke-linecap="butt"/>
<line x1="345.8" y1="322.4" x2="345.8" y2="326.2" stroke="#111" stroke-width="1.3" stroke-linecap="butt"/>
<line x1="457.3" y1="322.4" x2="457.3" y2="326.2" stroke="#111" stroke-width="1.3" stroke-linecap="butt"/>
<text x="309" y="338.5" font-size="8.5" text-anchor="middle" font-weight="normal" fill="#222">BL</text>
<text x="363.3" y="338.5" font-size="8.5" text-anchor="middle" font-weight="normal" fill="#222">5</text>
<text x="381.5" y="338.5" font-size="8.5" text-anchor="middle" font-weight="normal" fill="#222">10</text>
<text x="399.5" y="338.5" font-size="8.5" text-anchor="middle" font-weight="normal" fill="#222">15</text>
<text x="417.6" y="338.5" font-size="8.5" text-anchor="middle" font-weight="normal" fill="#222">20</text>
<text x="435.6" y="338.5" font-size="8.5" text-anchor="middle" font-weight="normal" fill="#222">25</text>
<text x="453.7" y="338.5" font-size="8.5" text-anchor="middle" font-weight="normal" fill="#222">30</text>
<polyline points="309,324 328.6,300" fill="none" stroke="#5fa043" stroke-width="1.8" stroke-linejoin="round"/>
<polyline points="309,324 328.6,305.2" fill="none" stroke="#28477c" stroke-width="2.2" stroke-linejoin="round" stroke-dasharray="4.5,2.6"/>
<polyline points="309,324 328.6,324" fill="none" stroke="#a81339" stroke-width="2.6" stroke-linejoin="round"/>
<rect x="306" y="321" width="6" height="6" fill="#a81339"/>
<polyline points="346.8,279.6 352.24,272 359.48,302.4 373.96,275.8 399.3,324" fill="none" stroke="#5fa043" stroke-width="2" stroke-linejoin="round"/>
<line x1="359.48" y1="282.2" x2="359.48" y2="302.4" stroke="#74a04e" stroke-width="1.35" stroke-linecap="butt"/>
<line x1="356.48" y1="282.2" x2="362.48" y2="282.2" stroke="#74a04e" stroke-width="1.35" stroke-linecap="butt"/>
<polyline points="346.8,288.8 352.24,283.1 359.48,317 373.96,266.7 399.3,316.9 424.64,323" fill="none" stroke="#28477c" stroke-width="2.2" stroke-linejoin="round" stroke-dasharray="4.5,2.6"/>
<line x1="352.24" y1="271.3" x2="352.24" y2="295.3" stroke="#28477c" stroke-width="1.35" stroke-linecap="butt"/>
<line x1="349.24" y1="271.3" x2="355.24" y2="271.3" stroke="#28477c" stroke-width="1.35" stroke-linecap="butt"/>
<line x1="349.24" y1="295.3" x2="355.24" y2="295.3" stroke="#28477c" stroke-width="1.35" stroke-linecap="butt"/>
<line x1="373.96" y1="217.8" x2="373.96" y2="312.3" stroke="#28477c" stroke-width="1.35" stroke-linecap="butt"/>
<line x1="370.96" y1="217.8" x2="376.96" y2="217.8" stroke="#28477c" stroke-width="1.35" stroke-linecap="butt"/>
<line x1="370.96" y1="312.3" x2="376.96" y2="312.3" stroke="#28477c" stroke-width="1.35" stroke-linecap="butt"/>
<line x1="399.3" y1="311.5" x2="399.3" y2="316.9" stroke="#28477c" stroke-width="1.35" stroke-linecap="butt"/>
<line x1="396.3" y1="311.5" x2="402.3" y2="311.5" stroke="#28477c" stroke-width="1.35" stroke-linecap="butt"/>
<rect x="349.24" y="280.1" width="6" height="6" fill="#28477c"/>
<rect x="356.48" y="313.1" width="6" height="6" fill="#28477c"/>
<rect x="370.96" y="263.7" width="6" height="6" fill="#28477c"/>
<rect x="396.3" y="313.9" width="6" height="6" fill="#28477c"/>
<polyline points="345.3,324 449.98,324" fill="none" stroke="#a81339" stroke-width="2.6" stroke-linejoin="round"/>
<circle cx="352.24" cy="323.5" r="2.8" fill="#a81339"/>
<circle cx="359.48" cy="323.5" r="2.8" fill="#a81339"/>
<circle cx="373.96" cy="323.5" r="2.8" fill="#a81339"/>
<circle cx="399.3" cy="323.5" r="2.8" fill="#a81339"/>
<circle cx="449.98" cy="323.5" r="2.8" fill="#a81339"/>
<rect x="421.89" y="321.25" width="5.5" height="5.5" fill="#a81339"/>
<text x="8.6" y="363" font-size="13" text-anchor="start" font-weight="bold" fill="#111">E</text>
<text x="119.9" y="363.9" font-size="10.7" fill="#222" textLength="61.4" lengthAdjust="spacingAndGlyphs">CD8+CD69+</text>
<text x="35" y="432.7" font-size="9.9" text-anchor="middle" fill="#222" textLength="45.2" lengthAdjust="spacingAndGlyphs" transform="rotate(-90 35 432.7)">% of CD8+</text>
<line x1="62.5" y1="370" x2="62.5" y2="496.1" stroke="#111" stroke-width="1.7" stroke-linecap="butt"/>
<line x1="59" y1="372.7" x2="62.5" y2="372.7" stroke="#111" stroke-width="1.3" stroke-linecap="butt"/>
<text x="55" y="376" font-size="8.5" text-anchor="end" font-weight="normal" fill="#222">100</text>
<line x1="59" y1="397.1" x2="62.5" y2="397.1" stroke="#111" stroke-width="1.3" stroke-linecap="butt"/>
<text x="55" y="400.4" font-size="8.5" text-anchor="end" font-weight="normal" fill="#222">80</text>
<line x1="59" y1="421.7" x2="62.5" y2="421.7" stroke="#111" stroke-width="1.3" stroke-linecap="butt"/>
<text x="55" y="425" font-size="8.5" text-anchor="end" font-weight="normal" fill="#222">60</text>
<line x1="59" y1="446.5" x2="62.5" y2="446.5" stroke="#111" stroke-width="1.3" stroke-linecap="butt"/>
<text x="55" y="449.8" font-size="8.5" text-anchor="end" font-weight="normal" fill="#222">40</text>
<line x1="59" y1="471" x2="62.5" y2="471" stroke="#111" stroke-width="1.3" stroke-linecap="butt"/>
<text x="55" y="474.3" font-size="8.5" text-anchor="end" font-weight="normal" fill="#222">20</text>
<line x1="59" y1="495.6" x2="62.5" y2="495.6" stroke="#111" stroke-width="1.3" stroke-linecap="butt"/>
<text x="55" y="498.9" font-size="8.5" text-anchor="end" font-weight="normal" fill="#222">0</text>
<line x1="62.5" y1="495.3" x2="94.4" y2="495.3" stroke="#111" stroke-width="1.7" stroke-linecap="butt"/>
<line x1="75.4" y1="495.3" x2="75.4" y2="498.3" stroke="#111" stroke-width="1.3" stroke-linecap="butt"/>
<line x1="94" y1="493.4" x2="94" y2="497.2" stroke="#111" stroke-width="1.3" stroke-linecap="butt"/>
<line x1="110.8" y1="495.3" x2="235.2" y2="495.3" stroke="#111" stroke-width="1.7" stroke-linecap="butt"/>
<line x1="125.8" y1="495.3" x2="125.8" y2="498.3" stroke="#111" stroke-width="1.3" stroke-linecap="butt"/>
<line x1="140.4" y1="495.3" x2="140.4" y2="498.3" stroke="#111" stroke-width="1.3" stroke-linecap="butt"/>
<line x1="155.2" y1="495.3" x2="155.2" y2="498.3" stroke="#111" stroke-width="1.3" stroke-linecap="butt"/>
<line x1="169.6" y1="495.3" x2="169.6" y2="498.3" stroke="#111" stroke-width="1.3" stroke-linecap="butt"/>
<line x1="184" y1="495.3" x2="184" y2="498.3" stroke="#111" stroke-width="1.3" stroke-linecap="butt"/>
<line x1="199" y1="495.3" x2="199" y2="498.3" stroke="#111" stroke-width="1.3" stroke-linecap="butt"/>
<line x1="213.4" y1="495.3" x2="213.4" y2="498.3" stroke="#111" stroke-width="1.3" stroke-linecap="butt"/>
<line x1="227.9" y1="495.3" x2="227.9" y2="498.3" stroke="#111" stroke-width="1.3" stroke-linecap="butt"/>
<line x1="111.2" y1="493.4" x2="111.2" y2="497.2" stroke="#111" stroke-width="1.3" stroke-linecap="butt"/>
<line x1="234.8" y1="493.4" x2="234.8" y2="497.2" stroke="#111" stroke-width="1.3" stroke-linecap="butt"/>
<text x="77.9" y="505.6" font-size="8.5" text-anchor="end" font-weight="normal" fill="#222" transform="rotate(-45 77.9 505.6)">BL</text>
<text x="128.3" y="505.6" font-size="8.5" text-anchor="end" font-weight="normal" fill="#222" transform="rotate(-45 128.3 505.6)">2h</text>
<text x="142.9" y="505.6" font-size="8.5" text-anchor="end" font-weight="normal" fill="#222" transform="rotate(-45 142.9 505.6)">6h</text>
<text x="157.7" y="505.6" font-size="8.5" text-anchor="end" font-weight="normal" fill="#222" transform="rotate(-45 157.7 505.6)">D1</text>
<text x="172.1" y="505.6" font-size="8.5" text-anchor="end" font-weight="normal" fill="#222" transform="rotate(-45 172.1 505.6)">D2</text>
<text x="186.5" y="505.6" font-size="8.5" text-anchor="end" font-weight="normal" fill="#222" transform="rotate(-45 186.5 505.6)">D8</text>
<text x="201.5" y="505.6" font-size="8.5" text-anchor="end" font-weight="normal" fill="#222" transform="rotate(-45 201.5 505.6)">D15</text>
<text x="215.9" y="505.6" font-size="8.5" text-anchor="end" font-weight="normal" fill="#222" transform="rotate(-45 215.9 505.6)">D22</text>
<text x="230.4" y="505.6" font-size="8.5" text-anchor="end" font-weight="normal" fill="#222" transform="rotate(-45 230.4 505.6)">D29</text>
<polyline points="78,477 94.4,454.6" fill="none" stroke="#5fa043" stroke-width="1.8" stroke-linejoin="round"/>
<polyline points="75.4,478.5 94.4,474.2" fill="none" stroke="#28477c" stroke-width="2.2" stroke-linejoin="round" stroke-dasharray="4.5,2.6"/>
<polyline points="75.4,485.5 94.4,487.5" fill="none" stroke="#a81339" stroke-width="2.5" stroke-linejoin="round"/>
<line x1="75.4" y1="471.7" x2="75.4" y2="478.5" stroke="#28477c" stroke-width="1.35" stroke-linecap="butt"/>
<line x1="72.4" y1="471.7" x2="78.4" y2="471.7" stroke="#28477c" stroke-width="1.35" stroke-linecap="butt"/>
<rect x="72.9" y="476" width="5" height="5" fill="#28477c"/>
<line x1="75.4" y1="482.5" x2="75.4" y2="490" stroke="#c07080" stroke-width="1.35" stroke-linecap="butt"/>
<line x1="72.4" y1="482.5" x2="78.4" y2="482.5" stroke="#c07080" stroke-width="1.35" stroke-linecap="butt"/>
<line x1="72.4" y1="490" x2="78.4" y2="490" stroke="#c07080" stroke-width="1.35" stroke-linecap="butt"/>
<circle cx="75.4" cy="485.5" r="3.1" fill="#a81339"/>
<polyline points="111.2,431.5 125.8,411.7 140.4,419.8 155.2,443.5 169.6,495 184,487 199,470 213.4,467 227.9,469.5" fill="none" stroke="#5fa043" stroke-width="2" stroke-linejoin="round"/>
<line x1="125.8" y1="394.4" x2="125.8" y2="427.7" stroke="#74a04e" stroke-width="1.35" stroke-linecap="butt"/>
<line x1="122.8" y1="394.4" x2="128.8" y2="394.4" stroke="#74a04e" stroke-width="1.35" stroke-linecap="butt"/>
<line x1="122.8" y1="427.7" x2="128.8" y2="427.7" stroke="#74a04e" stroke-width="1.35" stroke-linecap="butt"/>
<line x1="140.4" y1="392.5" x2="140.4" y2="445" stroke="#74a04e" stroke-width="1.35" stroke-linecap="butt"/>
<line x1="137.4" y1="392.5" x2="143.4" y2="392.5" stroke="#74a04e" stroke-width="1.35" stroke-linecap="butt"/>
<line x1="137.4" y1="445" x2="143.4" y2="445" stroke="#74a04e" stroke-width="1.35" stroke-linecap="butt"/>
<line x1="155.2" y1="409.8" x2="155.2" y2="475.6" stroke="#74a04e" stroke-width="1.35" stroke-linecap="butt"/>
<line x1="152.2" y1="409.8" x2="158.2" y2="409.8" stroke="#74a04e" stroke-width="1.35" stroke-linecap="butt"/>
<line x1="152.2" y1="475.6" x2="158.2" y2="475.6" stroke="#74a04e" stroke-width="1.35" stroke-linecap="butt"/>
<line x1="199" y1="460.3" x2="199" y2="470" stroke="#74a04e" stroke-width="1.35" stroke-linecap="butt"/>
<line x1="196" y1="460.3" x2="202" y2="460.3" stroke="#74a04e" stroke-width="1.35" stroke-linecap="butt"/>
<line x1="227.9" y1="465" x2="227.9" y2="472.4" stroke="#74a04e" stroke-width="1.35" stroke-linecap="butt"/>
<line x1="224.9" y1="465" x2="230.9" y2="465" stroke="#74a04e" stroke-width="1.35" stroke-linecap="butt"/>
<line x1="224.9" y1="472.4" x2="230.9" y2="472.4" stroke="#74a04e" stroke-width="1.35" stroke-linecap="butt"/>
<polygon points="125.8,408.19 122.55,414.04 129.05,414.04" fill="#5fa043"/>
<polygon points="140.4,416.29 137.15,422.14 143.65,422.14" fill="#5fa043"/>
<polygon points="155.2,439.99 151.95,445.84 158.45,445.84" fill="#5fa043"/>
<polygon points="199,466.49 195.75,472.34 202.25,472.34" fill="#5fa043"/>
<polygon points="213.4,463.49 210.15,469.34 216.65,469.34" fill="#5fa043"/>
<polygon points="227.9,465.99 224.65,471.84 231.15,471.84" fill="#5fa043"/>
<polyline points="111.2,469.4 125.8,465.6 140.4,459 155.2,451 169.6,487.1 184,450.2 199,473.6 213.4,483.3" fill="none" stroke="#28477c" stroke-width="2.2" stroke-linejoin="round" stroke-dasharray="4.5,2.6"/>
<line x1="125.8" y1="448.7" x2="125.8" y2="482.3" stroke="#28477c" stroke-width="1.35" stroke-linecap="butt"/>
<line x1="122.8" y1="448.7" x2="128.8" y2="448.7" stroke="#28477c" stroke-width="1.35" stroke-linecap="butt"/>
<line x1="122.8" y1="482.3" x2="128.8" y2="482.3" stroke="#28477c" stroke-width="1.35" stroke-linecap="butt"/>
<line x1="140.4" y1="444.8" x2="140.4" y2="473.7" stroke="#28477c" stroke-width="1.35" stroke-linecap="butt"/>
<line x1="137.4" y1="444.8" x2="143.4" y2="444.8" stroke="#28477c" stroke-width="1.35" stroke-linecap="butt"/>
<line x1="137.4" y1="473.7" x2="143.4" y2="473.7" stroke="#28477c" stroke-width="1.35" stroke-linecap="butt"/>
<line x1="155.2" y1="434.4" x2="155.2" y2="466" stroke="#28477c" stroke-width="1.35" stroke-linecap="butt"/>
<line x1="152.2" y1="434.4" x2="158.2" y2="434.4" stroke="#28477c" stroke-width="1.35" stroke-linecap="butt"/>
<line x1="152.2" y1="466" x2="158.2" y2="466" stroke="#28477c" stroke-width="1.35" stroke-linecap="butt"/>
<line x1="184" y1="431.4" x2="184" y2="466.6" stroke="#28477c" stroke-width="1.35" stroke-linecap="butt"/>
<line x1="181" y1="431.4" x2="187" y2="431.4" stroke="#28477c" stroke-width="1.35" stroke-linecap="butt"/>
<line x1="181" y1="466.6" x2="187" y2="466.6" stroke="#28477c" stroke-width="1.35" stroke-linecap="butt"/>
<line x1="199" y1="465" x2="199" y2="473.6" stroke="#28477c" stroke-width="1.35" stroke-linecap="butt"/>
<line x1="196" y1="465" x2="202" y2="465" stroke="#28477c" stroke-width="1.35" stroke-linecap="butt"/>
<line x1="213.4" y1="479" x2="213.4" y2="483.3" stroke="#28477c" stroke-width="1.35" stroke-linecap="butt"/>
<line x1="210.4" y1="479" x2="216.4" y2="479" stroke="#28477c" stroke-width="1.35" stroke-linecap="butt"/>
<rect x="122.8" y="462.6" width="6" height="6" fill="#28477c"/>
<rect x="137.4" y="456" width="6" height="6" fill="#28477c"/>
<rect x="152.2" y="448" width="6" height="6" fill="#28477c"/>
<rect x="166.6" y="484.1" width="6" height="6" fill="#28477c"/>
<rect x="181" y="447.2" width="6" height="6" fill="#28477c"/>
<rect x="196" y="470.6" width="6" height="6" fill="#28477c"/>
<rect x="210.4" y="480.3" width="6" height="6" fill="#28477c"/>
<polyline points="110.8,490.2 125.8,491.5 140.4,492 155.2,491 169.6,490 184,489.8 199,486.9 213.4,486.4 227.9,488.1" fill="none" stroke="#a81339" stroke-width="2.3" stroke-linejoin="round"/>
<line x1="125.8" y1="486.9" x2="125.8" y2="491.5" stroke="#a01f45" stroke-width="1.35" stroke-linecap="butt"/>
<line x1="123" y1="486.9" x2="128.6" y2="486.9" stroke="#a01f45" stroke-width="1.35" stroke-linecap="butt"/>
<circle cx="125.8" cy="491.5" r="2.7" fill="#a81339"/>
<circle cx="140.4" cy="492" r="2.7" fill="#a81339"/>
<line x1="155.2" y1="486.4" x2="155.2" y2="491" stroke="#a01f45" stroke-width="1.35" stroke-linecap="butt"/>
<line x1="152.4" y1="486.4" x2="158" y2="486.4" stroke="#a01f45" stroke-width="1.35" stroke-linecap="butt"/>
<circle cx="155.2" cy="491" r="2.7" fill="#a81339"/>
<line x1="169.6" y1="485.4" x2="169.6" y2="490" stroke="#a01f45" stroke-width="1.35" stroke-linecap="butt"/>
<line x1="166.8" y1="485.4" x2="172.4" y2="485.4" stroke="#a01f45" stroke-width="1.35" stroke-linecap="butt"/>
<circle cx="169.6" cy="490" r="2.7" fill="#a81339"/>
<line x1="184" y1="485.2" x2="184" y2="489.8" stroke="#a01f45" stroke-width="1.35" stroke-linecap="butt"/>
<line x1="181.2" y1="485.2" x2="186.8" y2="485.2" stroke="#a01f45" stroke-width="1.35" stroke-linecap="butt"/>
<circle cx="184" cy="489.8" r="2.7" fill="#a81339"/>
<line x1="199" y1="482.3" x2="199" y2="486.9" stroke="#a01f45" stroke-width="1.35" stroke-linecap="butt"/>
<line x1="196.2" y1="482.3" x2="201.8" y2="482.3" stroke="#a01f45" stroke-width="1.35" stroke-linecap="butt"/>
<line x1="199" y1="486.9" x2="199" y2="490.5" stroke="#a01f45" stroke-width="1.35" stroke-linecap="butt"/>
<line x1="196.2" y1="490.5" x2="201.8" y2="490.5" stroke="#a01f45" stroke-width="1.35" stroke-linecap="butt"/>
<circle cx="199" cy="486.9" r="2.7" fill="#a81339"/>
<line x1="213.4" y1="481.8" x2="213.4" y2="486.4" stroke="#a01f45" stroke-width="1.35" stroke-linecap="butt"/>
<line x1="210.6" y1="481.8" x2="216.2" y2="481.8" stroke="#a01f45" stroke-width="1.35" stroke-linecap="butt"/>
<line x1="213.4" y1="486.4" x2="213.4" y2="490" stroke="#a01f45" stroke-width="1.35" stroke-linecap="butt"/>
<line x1="210.6" y1="490" x2="216.2" y2="490" stroke="#a01f45" stroke-width="1.35" stroke-linecap="butt"/>
<circle cx="213.4" cy="486.4" r="2.7" fill="#a81339"/>
<line x1="227.9" y1="483.5" x2="227.9" y2="488.1" stroke="#a01f45" stroke-width="1.35" stroke-linecap="butt"/>
<line x1="225.1" y1="483.5" x2="230.7" y2="483.5" stroke="#a01f45" stroke-width="1.35" stroke-linecap="butt"/>
<line x1="227.9" y1="488.1" x2="227.9" y2="491.7" stroke="#a01f45" stroke-width="1.35" stroke-linecap="butt"/>
<line x1="225.1" y1="491.7" x2="230.7" y2="491.7" stroke="#a01f45" stroke-width="1.35" stroke-linecap="butt"/>
<circle cx="227.9" cy="488.1" r="2.7" fill="#a81339"/>
<text x="248.4" y="362" font-size="13" text-anchor="start" font-weight="bold" fill="#111">F</text>
<text x="350.2" y="364" font-size="10.7" fill="#222" textLength="62.7" lengthAdjust="spacingAndGlyphs">CD8+CD25+</text>
<text x="273.8" y="431.8" font-size="9.9" text-anchor="middle" fill="#222" textLength="45.9" lengthAdjust="spacingAndGlyphs" transform="rotate(-90 273.8 431.8)">% of CD8+</text>
<line x1="296.5" y1="367" x2="296.5" y2="496.2" stroke="#111" stroke-width="1.7" stroke-linecap="butt"/>
<line x1="293" y1="370.4" x2="296.5" y2="370.4" stroke="#111" stroke-width="1.3" stroke-linecap="butt"/>
<text x="289" y="373.7" font-size="8.5" text-anchor="end" font-weight="normal" fill="#222">80</text>
<line x1="293" y1="401.9" x2="296.5" y2="401.9" stroke="#111" stroke-width="1.3" stroke-linecap="butt"/>
<text x="289" y="405.2" font-size="8.5" text-anchor="end" font-weight="normal" fill="#222">60</text>
<line x1="293" y1="432.9" x2="296.5" y2="432.9" stroke="#111" stroke-width="1.3" stroke-linecap="butt"/>
<text x="289" y="436.2" font-size="8.5" text-anchor="end" font-weight="normal" fill="#222">40</text>
<line x1="293" y1="464.2" x2="296.5" y2="464.2" stroke="#111" stroke-width="1.3" stroke-linecap="butt"/>
<text x="289" y="467.5" font-size="8.5" text-anchor="end" font-weight="normal" fill="#222">20</text>
<line x1="293" y1="495.4" x2="296.5" y2="495.4" stroke="#111" stroke-width="1.3" stroke-linecap="butt"/>
<text x="289" y="498.7" font-size="8.5" text-anchor="end" font-weight="normal" fill="#222">0</text>
<line x1="296.5" y1="495.4" x2="327.7" y2="495.4" stroke="#111" stroke-width="1.7" stroke-linecap="butt"/>
<line x1="308.8" y1="495.4" x2="308.8" y2="498.4" stroke="#111" stroke-width="1.3" stroke-linecap="butt"/>
<line x1="327.3" y1="493.5" x2="327.3" y2="497.3" stroke="#111" stroke-width="1.3" stroke-linecap="butt"/>
<line x1="343.8" y1="495.4" x2="466.5" y2="495.4" stroke="#111" stroke-width="1.7" stroke-linecap="butt"/>
<line x1="358.5" y1="495.4" x2="358.5" y2="498.4" stroke="#111" stroke-width="1.3" stroke-linecap="butt"/>
<line x1="373" y1="495.4" x2="373" y2="498.4" stroke="#111" stroke-width="1.3" stroke-linecap="butt"/>
<line x1="387.6" y1="495.4" x2="387.6" y2="498.4" stroke="#111" stroke-width="1.3" stroke-linecap="butt"/>
<line x1="401.6" y1="495.4" x2="401.6" y2="498.4" stroke="#111" stroke-width="1.3" stroke-linecap="butt"/>
<line x1="416.8" y1="495.4" x2="416.8" y2="498.4" stroke="#111" stroke-width="1.3" stroke-linecap="butt"/>
<line x1="430.8" y1="495.4" x2="430.8" y2="498.4" stroke="#111" stroke-width="1.3" stroke-linecap="butt"/>
<line x1="445.3" y1="495.4" x2="445.3" y2="498.4" stroke="#111" stroke-width="1.3" stroke-linecap="butt"/>
<line x1="459.5" y1="495.4" x2="459.5" y2="498.4" stroke="#111" stroke-width="1.3" stroke-linecap="butt"/>
<line x1="344.2" y1="493.5" x2="344.2" y2="497.3" stroke="#111" stroke-width="1.3" stroke-linecap="butt"/>
<line x1="466.1" y1="493.5" x2="466.1" y2="497.3" stroke="#111" stroke-width="1.3" stroke-linecap="butt"/>
<text x="312.5" y="506.4" font-size="8.5" text-anchor="end" font-weight="normal" fill="#222" transform="rotate(-45 312.5 506.4)">BL</text>
<text x="362.2" y="506.4" font-size="8.5" text-anchor="end" font-weight="normal" fill="#222" transform="rotate(-45 362.2 506.4)">2h</text>
<text x="376.7" y="506.4" font-size="8.5" text-anchor="end" font-weight="normal" fill="#222" transform="rotate(-45 376.7 506.4)">6h</text>
<text x="391.3" y="506.4" font-size="8.5" text-anchor="end" font-weight="normal" fill="#222" transform="rotate(-45 391.3 506.4)">D1</text>
<text x="405.3" y="506.4" font-size="8.5" text-anchor="end" font-weight="normal" fill="#222" transform="rotate(-45 405.3 506.4)">D2</text>
<text x="420.5" y="506.4" font-size="8.5" text-anchor="end" font-weight="normal" fill="#222" transform="rotate(-45 420.5 506.4)">D8</text>
<text x="434.5" y="506.4" font-size="8.5" text-anchor="end" font-weight="normal" fill="#222" transform="rotate(-45 434.5 506.4)">D15</text>
<text x="449" y="506.4" font-size="8.5" text-anchor="end" font-weight="normal" fill="#222" transform="rotate(-45 449 506.4)">D22</text>
<text x="463.2" y="506.4" font-size="8.5" text-anchor="end" font-weight="normal" fill="#222" transform="rotate(-45 463.2 506.4)">D29</text>
<polyline points="308.8,483.5 327.7,480.5" fill="none" stroke="#5fa043" stroke-width="1.8" stroke-linejoin="round"/>
<line x1="308.8" y1="464.6" x2="308.8" y2="483.5" stroke="#74a04e" stroke-width="1.35" stroke-linecap="butt"/>
<line x1="305.8" y1="464.6" x2="311.8" y2="464.6" stroke="#74a04e" stroke-width="1.35" stroke-linecap="butt"/>
<polygon points="308.8,480.53 306.05,485.48 311.55,485.48" fill="#5fa043"/>
<polyline points="308.8,489.6 327.7,489.6" fill="none" stroke="#4a2a60" stroke-width="2" stroke-linejoin="round" stroke-dasharray="3,2"/>
<polyline points="308.8,491.3 327.7,491.3" fill="none" stroke="#a81339" stroke-width="2.2" stroke-linejoin="round"/>
<rect x="306.3" y="487" width="5" height="5" fill="#28477c"/>
<circle cx="308.8" cy="491.8" r="3.1" fill="#a81339"/>
<polyline points="343.8,478 358.5,476 373,455.1 387.6,470 401.6,431.8 416.8,450.5 430.8,480.8 445.3,494 459.5,493" fill="none" stroke="#5fa043" stroke-width="2" stroke-linejoin="round"/>
<line x1="358.5" y1="446.4" x2="358.5" y2="476" stroke="#74a04e" stroke-width="1.35" stroke-linecap="butt"/>
<line x1="355.5" y1="446.4" x2="361.5" y2="446.4" stroke="#74a04e" stroke-width="1.35" stroke-linecap="butt"/>
<line x1="373" y1="430.7" x2="373" y2="462" stroke="#74a04e" stroke-width="1.35" stroke-linecap="butt"/>
<line x1="370" y1="430.7" x2="376" y2="430.7" stroke="#74a04e" stroke-width="1.35" stroke-linecap="butt"/>
<line x1="370" y1="462" x2="376" y2="462" stroke="#74a04e" stroke-width="1.35" stroke-linecap="butt"/>
<line x1="387.6" y1="448" x2="387.6" y2="470" stroke="#74a04e" stroke-width="1.35" stroke-linecap="butt"/>
<line x1="384.6" y1="448" x2="390.6" y2="448" stroke="#74a04e" stroke-width="1.35" stroke-linecap="butt"/>
<line x1="401.6" y1="400" x2="401.6" y2="462" stroke="#74a04e" stroke-width="1.35" stroke-linecap="butt"/>
<line x1="398.6" y1="400" x2="404.6" y2="400" stroke="#74a04e" stroke-width="1.35" stroke-linecap="butt"/>
<line x1="398.6" y1="462" x2="404.6" y2="462" stroke="#74a04e" stroke-width="1.35" stroke-linecap="butt"/>
<line x1="416.8" y1="433.8" x2="416.8" y2="458.9" stroke="#74a04e" stroke-width="1.35" stroke-linecap="butt"/>
<line x1="413.8" y1="433.8" x2="419.8" y2="433.8" stroke="#74a04e" stroke-width="1.35" stroke-linecap="butt"/>
<line x1="413.8" y1="458.9" x2="419.8" y2="458.9" stroke="#74a04e" stroke-width="1.35" stroke-linecap="butt"/>
<line x1="430.8" y1="466.6" x2="430.8" y2="480.8" stroke="#74a04e" stroke-width="1.35" stroke-linecap="butt"/>
<line x1="427.8" y1="466.6" x2="433.8" y2="466.6" stroke="#74a04e" stroke-width="1.35" stroke-linecap="butt"/>
<polygon points="358.5,472.49 355.25,478.34 361.75,478.34" fill="#5fa043"/>
<polygon points="373,451.59 369.75,457.44 376.25,457.44" fill="#5fa043"/>
<polygon points="387.6,466.49 384.35,472.34 390.85,472.34" fill="#5fa043"/>
<polygon points="401.6,428.29 398.35,434.14 404.85,434.14" fill="#5fa043"/>
<polygon points="416.8,446.99 413.55,452.84 420.05,452.84" fill="#5fa043"/>
<polygon points="430.8,477.29 427.55,483.14 434.05,483.14" fill="#5fa043"/>
<polyline points="343.8,489.6 358.5,487.1 373,480.8 387.6,484 401.6,443.2 416.8,491 430.8,492 445.3,493" fill="none" stroke="#28477c" stroke-width="2.2" stroke-linejoin="round" stroke-dasharray="4.5,2.6"/>
<line x1="373" y1="470.4" x2="373" y2="480.8" stroke="#28477c" stroke-width="1.35" stroke-linecap="butt"/>
<line x1="370" y1="470.4" x2="376" y2="470.4" stroke="#28477c" stroke-width="1.35" stroke-linecap="butt"/>
<line x1="401.6" y1="429.7" x2="401.6" y2="456" stroke="#28477c" stroke-width="1.35" stroke-linecap="butt"/>
<line x1="398.6" y1="429.7" x2="404.6" y2="429.7" stroke="#28477c" stroke-width="1.35" stroke-linecap="butt"/>
<line x1="398.6" y1="456" x2="404.6" y2="456" stroke="#28477c" stroke-width="1.35" stroke-linecap="butt"/>
<rect x="355.5" y="484.1" width="6" height="6" fill="#28477c"/>
<rect x="370" y="477.8" width="6" height="6" fill="#28477c"/>
<rect x="384.6" y="481" width="6" height="6" fill="#28477c"/>
<rect x="398.6" y="440.2" width="6" height="6" fill="#28477c"/>
<rect x="413.8" y="488" width="6" height="6" fill="#28477c"/>
<rect x="442.3" y="487.8" width="6" height="6" fill="#28477c"/>
<polyline points="343.8,491.5 358.5,491.9 373,490.8 387.6,491.3 401.6,492.9 416.8,492 430.8,492.3 445.3,494 459.5,493" fill="none" stroke="#a81339" stroke-width="2.5" stroke-linejoin="round"/>
<circle cx="358.5" cy="491.9" r="3.1" fill="#a81339"/>
<circle cx="373" cy="490.8" r="3.1" fill="#a81339"/>
<circle cx="387.6" cy="491.3" r="3.1" fill="#a81339"/>
<circle cx="401.6" cy="492.9" r="3.1" fill="#a81339"/>
<circle cx="416.8" cy="492" r="3.1" fill="#a81339"/>
<circle cx="430.8" cy="492.3" r="3.1" fill="#a81339"/>
<circle cx="445.3" cy="494" r="3.1" fill="#a81339"/>
<circle cx="459.5" cy="493" r="3.1" fill="#a81339"/>
<line x1="451.1" y1="388.8" x2="472" y2="388.8" stroke="#a81339" stroke-width="2.2" stroke-linecap="butt"/>
<circle cx="462" cy="388.8" r="2.8" fill="#a81339"/>
<text x="475.7" y="391.7" font-size="8.5" text-anchor="start" font-weight="normal" fill="#222">Vehicle</text>
<line x1="450.9" y1="401.9" x2="456.8" y2="401.9" stroke="#28477c" stroke-width="2.2" stroke-linecap="butt"/>
<line x1="468.4" y1="401.9" x2="471.8" y2="401.9" stroke="#28477c" stroke-width="2.2" stroke-linecap="butt"/>
<rect x="458.8" y="398.9" width="6" height="6" fill="#28477c"/>
<text x="475.7" y="404.5" font-size="8.5" text-anchor="start" font-weight="normal" fill="#222">0.2 mg/kg</text>
<line x1="451.1" y1="413.5" x2="472" y2="413.5" stroke="#5fa043" stroke-width="2" stroke-linecap="butt"/>
<polygon points="462,409.79 458.75,415.64 465.25,415.64" fill="#5fa043"/>
<text x="475.7" y="416.5" font-size="8.5" text-anchor="start" font-weight="normal" fill="#222">0.5 mg/kg</text>
<rect x="0" y="0" width="520" height="1.4" fill="#000"/><rect x="0" y="0" width="1.6" height="527" fill="#000"/><rect x="518.5" y="0" width="1.5" height="527" fill="#000"/><rect x="0" y="524.9" width="520" height="2.1" fill="#000"/>
</svg>
</body></html>
